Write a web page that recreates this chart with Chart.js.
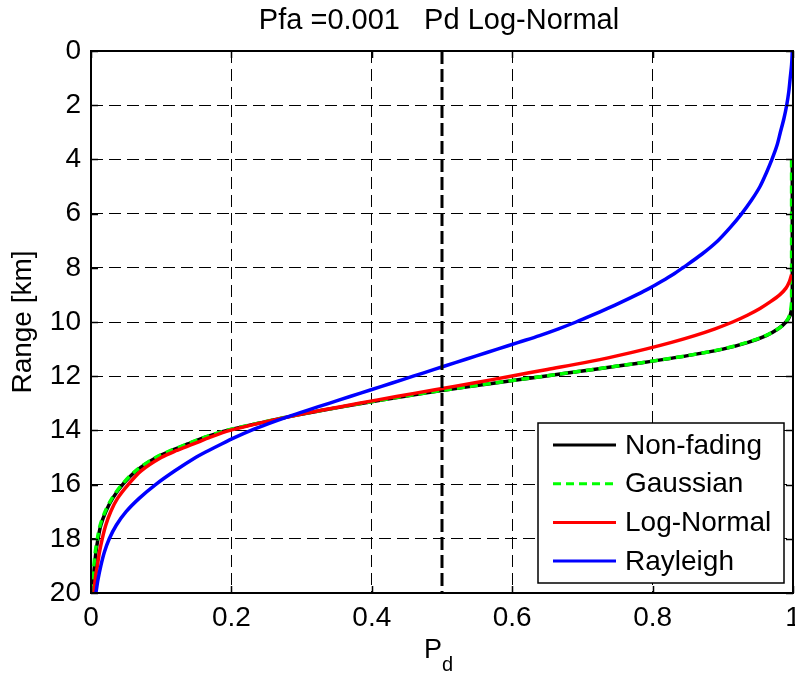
<!DOCTYPE html>
<html>
<head>
<meta charset="utf-8">
<title>Pfa =0.001 Pd Log-Normal</title>
<script src="https://cdn.jsdelivr.net/npm/chart.js@4.4.1/dist/chart.umd.min.js"></script>
<style>
  html, body { margin: 0; padding: 0; background: #fff; }
  #wrap { width: 795px; height: 674px; }
</style>
</head>
<body>
<div id="wrap"><canvas id="pdChart" width="795" height="674"></canvas></div>
<script>
// range samples (km), shared by all curves
const rangeKm = [0, 0.5, 1, 1.5, 2, 2.5, 3, 3.5, 4, 4.5, 5, 5.5, 6, 6.5, 7, 7.5, 8,
  8.25, 8.5, 8.75, 9, 9.25, 9.5, 9.75,
  10, 10.25, 10.5, 10.75, 11, 11.25, 11.5, 11.75, 12, 12.25, 12.5, 12.75,
  13, 13.25, 13.5, 13.75, 14, 14.25, 14.5, 14.75, 15, 15.5, 16, 16.5,
  17, 17.5, 18, 18.5, 19, 19.5, 20];

// Pd (null = no curve there)
const pdNonFading = [null, null, null, null, null, null, null, null, 0.999, 0.999, 0.999, 0.999, 0.999, 0.999, 0.999, 0.999, 0.999,
  0.999, 0.999, 0.999, 0.999, 0.999, 0.998, 0.996,
  0.990, 0.979, 0.962, 0.936, 0.900, 0.848, 0.785, 0.716, 0.646, 0.576, 0.507, 0.445,
  0.387, 0.332, 0.281, 0.236, 0.194, 0.163, 0.138, 0.114, 0.093, 0.064, 0.045, 0.031,
  0.021, 0.014, 0.010, 0.007, 0.005, 0.003, 0.001];
const pdGaussian = [null, null, null, null, null, null, null, null, 0.998, 0.998, 0.998, 0.998, 0.998, 0.998, 0.998, 0.998, 0.998,
  0.998, 0.998, 0.998, 0.998, 0.998, 0.997, 0.995,
  0.990, 0.979, 0.961, 0.935, 0.899, 0.847, 0.784, 0.715, 0.645, 0.575, 0.506, 0.444,
  0.386, 0.331, 0.280, 0.235, 0.193, 0.162, 0.137, 0.113, 0.092, 0.063, 0.044, 0.030,
  0.020, 0.013, 0.009, 0.006, 0.004, 0.002, 0.001];
const pdLogNormal = [null, null, null, null, null, null, null, null, null, null, null, null, null, null, null, null, null,
  0.998, 0.995, 0.990, 0.981, 0.968, 0.953, 0.935,
  0.914, 0.889, 0.860, 0.827, 0.790, 0.749, 0.703, 0.650, 0.598, 0.545, 0.490, 0.435,
  0.382, 0.330, 0.281, 0.237, 0.198, 0.170, 0.146, 0.121, 0.100, 0.071, 0.053, 0.038,
  0.028, 0.021, 0.016, 0.012, 0.009, 0.006, 0.004];
const pdRayleigh = [0.999, 0.998, 0.996, 0.994, 0.991, 0.987, 0.982, 0.977, 0.970, 0.962, 0.953, 0.941, 0.927, 0.911, 0.893, 0.870, 0.843,
  0.829, 0.813, 0.796, 0.777, 0.757, 0.736, 0.714,
  0.691, 0.666, 0.639, 0.609, 0.579, 0.549, 0.519, 0.489, 0.459, 0.429, 0.399, 0.369,
  0.339, 0.309, 0.280, 0.253, 0.228, 0.206, 0.186, 0.167, 0.149, 0.119, 0.092, 0.069,
  0.050, 0.036, 0.026, 0.019, 0.014, 0.010, 0.007];

const thresholdPd = 0.5;
const xTicks = [0, 0.2, 0.4, 0.6, 0.8, 1];
const yTicks = [0, 2, 4, 6, 8, 10, 12, 14, 16, 18, 20];

const FONT = "'Liberation Sans', Arial, Helvetica, sans-serif";

function toPoints(pd) {
  return rangeKm.map((r, i) => pd[i] == null ? null : { x: pd[i], y: r }).filter(p => p);
}

function curve(label, pd, color, order, dash) {
  return {
    label: label,
    data: toPoints(pd),
    borderColor: color,
    backgroundColor: color,
    borderWidth: 3.5,
    borderDash: dash || [],
    showLine: true,
    pointRadius: 0,
    tension: 0.3,
    order: order
  };
}

const datasets = [
  curve('Non-fading', pdNonFading, '#000000', 5),
  curve('Gaussian', pdGaussian, '#00ff00', 4, [8, 5]),
  curve('Log-Normal', pdLogNormal, '#ff0000', 3),
  curve('Rayleigh', pdRayleigh, '#0000ff', 2),
  {
    label: 'threshold',
    data: [{ x: thresholdPd, y: yTicks[0] }, { x: thresholdPd, y: yTicks[yTicks.length - 1] }],
    borderColor: '#000',
    borderWidth: 3,
    borderDash: [13, 5],
    showLine: true,
    pointRadius: 0,
    order: 1,
    inLegend: false
  }
];

// box, inward ticks, legend inside the axes, title and x label
const matlabFrame = {
  id: 'matlabFrame',
  afterDatasetsDraw(chart) {
    const { ctx, chartArea: a, scales } = chart;
    ctx.save();
    ctx.setLineDash([]);
    ctx.strokeStyle = '#000';
    ctx.lineWidth = 2;
    ctx.strokeRect(a.left, a.top, a.right - a.left, a.bottom - a.top);

    ctx.lineWidth = 1.5;
    ctx.beginPath();
    xTicks.forEach(v => {
      const x = Math.round(scales.x.getPixelForValue(v)) + 0.5;
      ctx.moveTo(x, a.bottom); ctx.lineTo(x, a.bottom - 7);
      ctx.moveTo(x, a.top); ctx.lineTo(x, a.top + 7);
    });
    yTicks.forEach(v => {
      const y = Math.round(scales.y.getPixelForValue(v)) + 0.5;
      ctx.moveTo(a.left, y); ctx.lineTo(a.left + 7, y);
      ctx.moveTo(a.right, y); ctx.lineTo(a.right - 7, y);
    });
    ctx.stroke();

    // legend
    const items = chart.data.datasets.filter(d => d.inLegend !== false);
    const box = { x: 538, y: 423, w: 246, h: 160 };
    ctx.fillStyle = '#fff';
    ctx.fillRect(box.x, box.y, box.w, box.h);
    ctx.strokeStyle = '#000';
    ctx.lineWidth = 1.5;
    ctx.strokeRect(box.x, box.y, box.w, box.h);
    ctx.font = '28px ' + FONT;
    ctx.textBaseline = 'middle';
    ctx.textAlign = 'left';
    items.forEach((d, i) => {
      const y = 445 + i * 38.7;
      ctx.strokeStyle = d.borderColor;
      ctx.lineWidth = 3;
      ctx.setLineDash(d.borderDash);
      ctx.beginPath();
      ctx.moveTo(553, y); ctx.lineTo(616, y);
      ctx.stroke();
      ctx.setLineDash([]);
      ctx.fillStyle = '#000';
      ctx.fillText(d.label, 625, y + 1);
    });
    ctx.restore();
  },
  afterDraw(chart) {
    const { ctx, chartArea: a } = chart;
    const cx = (a.left + a.right) / 2;
    ctx.save();
    ctx.fillStyle = '#000';
    ctx.textBaseline = 'alphabetic';
    ctx.textAlign = 'center';
    ctx.font = '29px ' + FONT;
    ctx.fillText('Pfa =0.001   Pd Log-Normal', cx - 3, 29);

    // P with subscript d
    ctx.textAlign = 'left';
    ctx.font = '27px ' + FONT;
    ctx.fillText('P', 424, 658);
    ctx.font = '20px ' + FONT;
    ctx.fillText('d', 442, 671);
    ctx.restore();
  }
};

new Chart(document.getElementById('pdChart'), {
  type: 'scatter',
  data: { datasets: datasets },
  plugins: [matlabFrame],
  options: {
    responsive: false,
    animation: false,
    layout: { padding: { left: 0, right: 2, top: 51, bottom: 0 } },
    plugins: {
      legend: { display: false },
      title: { display: false },
      tooltip: { enabled: false }
    },
    scales: {
      x: {
        type: 'linear',
        min: 0,
        max: 1,
        afterBuildTicks: s => { s.ticks = xTicks.map(v => ({ value: v })); },
        afterFit: s => { s.height = 81; s.paddingLeft = 0; s.paddingRight = 0; },
        grid: { color: '#000', lineWidth: 1, drawTicks: false },
        border: { display: false, dash: [12, 6] },
        ticks: { color: '#000', padding: 8, font: { family: FONT, size: 28 }, maxRotation: 0,
          callback: v => String(v) }
      },
      y: {
        type: 'linear',
        reverse: true,
        min: 0,
        max: 20,
        afterBuildTicks: s => { s.ticks = yTicks.map(v => ({ value: v })); },
        afterFit: s => { s.width = 91; s.paddingTop = 0; s.paddingBottom = 0; },
        grid: { color: '#000', lineWidth: 1, drawTicks: false },
        border: { display: false, dash: [12, 6] },
        ticks: { color: '#000', padding: 10, font: { family: FONT, size: 28 },
          callback: v => String(v) },
        title: {
          display: true,
          text: 'Range [km]',
          color: '#000',
          font: { family: FONT, size: 28 },
          padding: { top: 6, bottom: 0 }
        }
      }
    }
  }
});
</script>
</body>
</html>
